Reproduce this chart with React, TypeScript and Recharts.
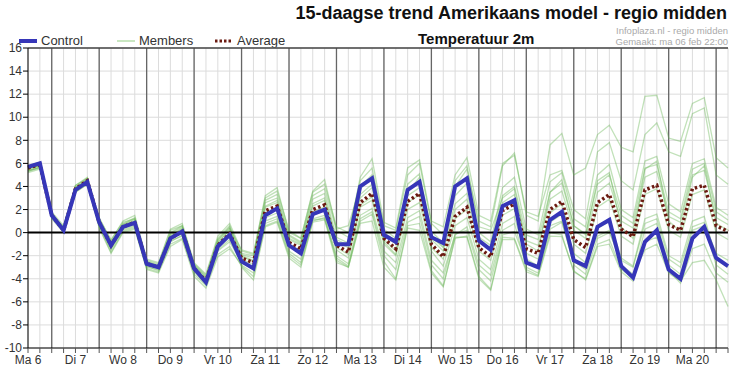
import { CartesianGrid, Line, LineChart, ReferenceLine, XAxis, YAxis } from "recharts";

// 6-hourly steps, starting Ma 6 12:00 and ending Di 21 06:00
const dayLabels = ["Ma 6", "Di 7", "Wo 8", "Do 9", "Vr 10", "Za 11", "Zo 12", "Ma 13", "Di 14", "Wo 15", "Do 16", "Vr 17", "Za 18", "Zo 19", "Ma 20"];
const yTicks = [-10, -8, -6, -4, -2, 0, 2, 4, 6, 8, 10, 12, 14, 16];

const control = [
  5.7, 6.0, 1.5, 0.2, 3.7, 4.4, 0.9, -1.1, 0.5, 0.85, -2.7, -3.0, -0.5, 0.1, -3.1, -4.3, -1.2, -0.2,
  -2.5, -3.1, 1.5, 2.1, -1.1, -1.8, 1.6, 2.0, -1.0, -1.0, 4.0, 4.7, -0.2, -0.8, 3.7, 4.4, -0.4, -0.9,
  4.0, 4.7, -0.7, -1.5, 2.3, 2.8, -2.6, -3.0, 1.1, 1.8, -2.4, -2.9, 0.5, 1.1, -2.9, -3.9, -0.8, 0.2,
  -3.2, -4.0, -0.5, 0.5, -2.2, -2.9,
];

const average = [
  5.6, 5.9, 1.5, 0.2, 3.8, 4.5, 0.9, -1.1, 0.5, 0.9, -2.7, -3.0, -0.5, 0.1, -3.1, -4.2, -1.1, -0.1,
  -2.2, -2.6, 1.9, 2.3, -0.85, -1.4, 2.0, 2.4, -1.1, -1.7, 2.6, 3.4, -0.5, -1.4, 2.7, 3.4, -1.0, -2.1,
  1.4, 2.2, -1.3, -2.1, 1.9, 2.5, -1.4, -1.8, 2.0, 2.7, -0.6, -1.3, 2.6, 3.3, 0.3, -0.35, 3.7, 4.1,
  0.7, 0.2, 3.8, 4.1, 0.6, 0.1,
];

const member01 = [
  5.5, 5.8, 1.3, 0.4, 3.9, 4.6, 1.2, -0.6, 0.9, 1.2, -2.4, -2.7, 0.2, 0.6, -2.8, -3.8, -0.6, 0.4,
  -1.5, -1.8, 3.0, 3.6, 0.2, -0.5, 3.5, 4.2, 0.5, 0.0, 4.5, 5.6, 0.6, 0.2, 5.0, 6.0, 0.8, -0.2,
  4.0, 5.5, 1.0, 0.5, 5.8, 6.9, 1.5, 1.0, 7.6, 8.6, 5.0, 5.6, 8.5, 9.3, 7.4, 7.0, 11.8, 11.9,
  8.2, 7.9, 11.2, 11.7, 6.5, 5.6,
];
const member02 = [
  5.3, 5.7, 1.6, 0.5, 4.0, 4.7, 0.8, -1.3, 0.3, 0.6, -2.9, -3.3, -0.8, -0.2, -3.3, -4.1, -0.9, 0.3,
  -1.8, -2.0, 2.8, 3.3, -0.2, -0.8, 3.2, 3.8, 0.2, -0.4, 4.8, 6.4, 0.9, 0.4, 5.6, 6.3, 1.0, 0.5,
  5.0, 6.5, 1.5, 1.0, 6.0, 6.7, 1.8, 1.4, 5.0, 5.4, 2.0, 1.2, 7.0, 7.8, 4.5, 3.7, 8.5, 9.5,
  7.0, 6.6, 10.3, 10.8, 5.0, 4.2,
];
const member03 = [
  5.6, 5.9, 1.4, 0.1, 3.6, 4.3, 1.1, -0.9, 0.7, 1.1, -2.6, -2.9, -0.3, 0.4, -2.9, -4.0, -1.0, -0.1,
  -1.9, -2.2, 2.6, 3.0, -0.3, -0.9, 2.9, 3.4, -0.4, -0.9, 3.8, 4.8, 0.3, -0.5, 4.2, 5.1, 0.1, -0.9,
  3.2, 4.3, 0.0, -0.8, 3.9, 4.8, 0.3, -0.2, 4.4, 5.2, 1.2, 0.5, 5.0, 5.9, 2.0, 1.3, 6.2, 6.6,
  2.5, 1.8, 6.0, 6.4, 2.2, 1.5,
];
const member04 = [
  5.4, 5.6, 1.7, 0.3, 3.8, 4.5, 0.6, -1.5, 0.2, 0.5, -3.0, -3.2, -0.7, -0.3, -3.4, -4.5, -1.6, -0.8,
  -2.6, -3.2, 1.0, 1.4, -1.6, -2.3, 1.2, 1.5, -2.0, -2.7, 1.5, 2.1, -1.6, -2.6, 1.3, 1.9, -2.4, -3.5,
  -0.2, 0.5, -2.8, -3.7, 0.2, 0.8, -3.0, -3.5, 0.3, 0.9, -2.5, -3.2, 0.4, 1.0, -2.2, -2.9, 1.2, 1.6,
  -2.0, -2.6, 1.0, 1.4, -2.3, -3.0,
];
const member05 = [
  5.8, 6.1, 1.2, 0.0, 3.5, 4.2, 1.0, -0.8, 0.8, 1.3, -2.5, -2.8, -0.1, 0.5, -2.7, -3.7, -0.5, 0.6,
  -2.0, -2.4, 2.2, 2.6, -0.6, -1.1, 2.3, 2.8, -0.8, -1.3, 3.0, 3.9, -0.2, -1.0, 3.2, 3.9, -0.6, -1.6,
  2.0, 2.9, -0.8, -1.5, 2.6, 3.3, -0.7, -1.1, 2.9, 3.6, 0.2, -0.5, 3.5, 4.3, 1.0, 0.4, 4.8, 5.3,
  1.4, 0.9, 5.0, 5.4, 1.3, 0.7,
];
const member06 = [
  5.2, 5.5, 1.8, 0.6, 4.1, 4.8, 1.3, -0.7, 1.0, 1.5, -2.3, -2.6, 0.3, 0.8, -2.6, -3.6, -0.3, 0.8,
  -1.6, -1.9, 3.2, 3.9, 0.0, -0.5, 3.6, 4.6, 0.3, 0.6, 4.0, 5.0, -0.8, -1.9, 3.5, 4.8, -0.3, -1.2,
  4.5, 5.8, 0.5, 0.2, 3.0, 3.8, -1.0, -1.6, 3.5, 4.6, 0.6, -0.2, 4.5, 5.2, 0.5, -0.5, 5.5, 6.2,
  1.0, 0.1, 4.8, 5.8, 0.8, 0.2,
];
const member07 = [
  5.6, 5.8, 1.5, 0.2, 3.7, 4.4, 0.7, -1.4, 0.4, 0.7, -2.8, -3.1, -0.6, 0.0, -3.2, -4.4, -1.5, -0.6,
  -2.5, -3.0, 1.3, 1.7, -1.2, -1.8, 1.5, 1.9, -1.5, -2.2, 2.2, 2.8, -1.0, -2.0, 2.0, 2.6, -1.6, -2.9,
  0.6, 1.3, -2.3, -3.2, 0.8, 1.4, -2.3, -2.9, 0.9, 1.6, -1.8, -2.6, -0.3, 0.2, -2.8, -3.6, -1.5, -1.0,
  -3.5, -4.2, -2.6, -2.4, -4.1, -6.4,
];
const member08 = [
  5.5, 5.9, 1.4, 0.3, 3.9, 4.5, 0.5, -1.7, 0.1, 0.4, -3.1, -3.4, -1.0, -0.5, -3.6, -4.6, -1.9, -1.2,
  -2.9, -3.8, 0.6, 1.0, -2.0, -2.8, 1.0, 1.3, -2.4, -3.0, 1.0, 1.6, -2.5, -4.0, 0.6, 0.8, -3.3, -4.6,
  -0.5, -0.3, -3.8, -4.9, -0.4, -0.5, -3.2, -3.7, 0.0, -0.2, -3.4, -4.0, -1.0, -0.6, -3.2, -3.9, 0.3, 0.8,
  -2.8, -3.6, 0.2, 0.6, -2.8, -3.6,
];
const member09 = [
  5.7, 5.9, 1.6, 0.1, 3.6, 4.3, 0.9, -1.0, 0.6, 1.0, -2.7, -3.0, -0.4, 0.2, -3.0, -4.2, -1.1, 0.0,
  -2.3, -2.8, 1.7, 2.1, -1.0, -1.6, 1.8, 2.2, -1.3, -1.9, 2.4, 3.1, -0.6, -1.6, 2.6, 3.3, -1.3, -2.3,
  1.2, 2.0, -1.6, -2.4, 1.5, 2.1, -1.8, -2.3, 1.7, 2.5, -1.0, -1.8, 2.2, 2.9, -0.3, -1.0, 3.3, 3.8,
  0.2, -0.4, 3.3, 3.7, 0.0, -0.6,
];
const member10 = [
  5.3, 5.6, 1.3, 0.4, 3.8, 4.6, 1.1, -1.2, 0.5, 0.9, -2.6, -3.0, -0.2, 0.3, -3.0, -4.1, -0.8, 0.2,
  -2.1, -2.5, 2.3, 2.8, -0.5, -1.0, 2.5, 3.0, -0.6, -1.1, 3.3, 4.2, 0.0, -0.7, 3.6, 4.4, -0.4, -1.3,
  2.5, 3.4, -0.4, -1.1, 3.2, 4.0, -0.2, -0.6, 3.5, 4.3, 0.6, -0.1, 4.2, 5.0, 1.5, 0.8, 5.6, 5.9,
  1.8, 1.2, 5.5, 6.0, 1.8, 1.1,
];
const member11 = [
  5.6, 5.8, 1.7, 0.2, 3.5, 4.2, 0.4, -1.8, 0.0, 0.3, -3.2, -3.5, -1.2, -0.6, -3.8, -4.8, -2.1, -1.4,
  -2.8, -3.5, 0.8, 1.2, -1.8, -2.6, 1.1, 1.2, -2.2, -2.9, 1.2, 1.8, -2.0, -3.2, 0.9, 1.4, -2.8, -4.0,
  -0.1, 0.2, -3.2, -4.2, -0.2, 0.1, -2.6, -3.1, 0.6, 1.0, -2.8, -3.6, -0.5, 0.0, -2.4, -3.0, 0.8, 1.2,
  -2.3, -3.0, 0.5, 0.9, -1.8, -2.4,
];
const member12 = [
  5.4, 5.7, 1.5, 0.5, 4.1, 4.7, 1.0, -0.9, 0.7, 1.2, -2.5, -2.9, 0.0, 0.6, -2.8, -3.9, -0.7, 0.5,
  -3.0, -4.1, 0.5, 0.9, -2.2, -3.0, 0.9, 1.1, -2.6, -3.0, 0.8, 1.0, -3.0, -4.1, 0.4, 0.2, -3.5, -4.7,
  -0.4, -0.4, -4.0, -5.0, -0.6, -0.6, -3.4, -3.8, -0.3, -0.35, -3.3, -4.1, -1.2, -1.0, -3.4, -4.2, -0.8, -0.4,
  -3.3, -4.4, -1.4, -1.0, -3.5, -4.3,
];

const members = [member01, member02, member03, member04, member05, member06, member07, member08, member09, member10, member11, member12];

const chartData = control.map((value, i) => {
  const row: Record<string, number> = { step: i, control: value, average: average[i] };
  members.forEach((m, k) => {
    row[`m${k}`] = m[i];
  });
  return row;
});

const allSteps = control.map((_, i) => i);
// day boundaries (00:00) fall two steps after each noon label
const midnights = allSteps.filter((i) => i % 4 === 2);

function stepLabel(i: number): string {
  return i % 4 === 0 ? dayLabels[i / 4] ?? "" : "";
}

const font = "'Liberation Sans', Arial, sans-serif";

function LegendItem({ left, label, swatch }: { left: number; label: string; swatch: React.ReactNode }) {
  return (
    <div style={{ position: "absolute", left, top: 33, display: "flex", alignItems: "center", fontSize: 13, color: "#333" }}>
      <svg width={20} height={10} style={{ marginRight: 3 }}>
        {swatch}
      </svg>
      {label}
    </div>
  );
}

export default function App() {
  return (
    <div style={{ position: "absolute", left: 0, top: 0, width: 732, height: 371, background: "#fff", fontFamily: font }}>
      <div style={{ position: "absolute", right: 5, top: 3, fontSize: 18, fontWeight: 700, color: "#111", whiteSpace: "nowrap" }}>
        15-daagse trend Amerikaans model - regio midden
      </div>
      <div style={{ position: "absolute", right: 4, top: 25, fontSize: 9.5, color: "#aaa", whiteSpace: "nowrap" }}>
        Infoplaza.nl - regio midden
      </div>
      <div style={{ position: "absolute", right: 4, top: 36, fontSize: 9.5, color: "#aaa", whiteSpace: "nowrap" }}>
        Gemaakt: ma 06 feb 22:00
      </div>
      <div style={{ position: "absolute", left: 418, top: 30, fontSize: 15, fontWeight: 700, color: "#111", whiteSpace: "nowrap" }}>
        Temperatuur 2m
      </div>
      <LegendItem left={18} label="Control" swatch={<line x1={1} x2={19} y1={5} y2={5} stroke="#3636b8" strokeWidth={4} />} />
      <LegendItem left={116} label="Members" swatch={<line x1={1} x2={19} y1={5} y2={5} stroke="#c9e6c1" strokeWidth={2} />} />
      <LegendItem left={214} label="Average" swatch={<line x1={1} x2={19} y1={5} y2={5} stroke="#6b1a10" strokeWidth={3} strokeDasharray="2.5 2" />} />

      <LineChart width={732} height={371} data={chartData} margin={{ top: 48, right: 4, bottom: 0, left: 0 }}>
        <CartesianGrid stroke="#dcdcdc" strokeWidth={1} />
        <XAxis
          dataKey="step"
          type="number"
          domain={[0, 59]}
          ticks={allSteps}
          interval={0}
          height={23}
          tickFormatter={stepLabel}
          stroke="#000"
          tickLine={{ stroke: "#555" }}
          tickSize={5}
          tick={{ fill: "#333", fontSize: 12, fontFamily: font }}
        />
        <YAxis
          type="number"
          domain={[-10, 16]}
          ticks={yTicks}
          interval={0}
          width={28}
          stroke="#000"
          tickSize={5}
          tickMargin={1}
          tick={{ fill: "#333", fontSize: 12, fontFamily: font }}
        />
        {midnights.map((i) => (
          <ReferenceLine key={i} x={i} stroke="#666" strokeWidth={1.3} />
        ))}
        <ReferenceLine y={16} stroke="#444" strokeWidth={1.3} />
        {members.map((_, k) => (
          <Line
            key={k}
            dataKey={`m${k}`}
            stroke="#64b450"
            strokeOpacity={0.4}
            strokeWidth={1.3}
            dot={false}
            activeDot={false}
            isAnimationActive={false}
          />
        ))}
        <ReferenceLine y={0} stroke="#000" strokeWidth={2} />
        <Line dataKey="average" stroke="#6b1a10" strokeWidth={3.5} strokeDasharray="2.5 2.5" dot={false} isAnimationActive={false} />
        <Line dataKey="control" stroke="#3636b8" strokeWidth={4} strokeLinejoin="miter" dot={false} isAnimationActive={false} />
      </LineChart>
    </div>
  );
}
